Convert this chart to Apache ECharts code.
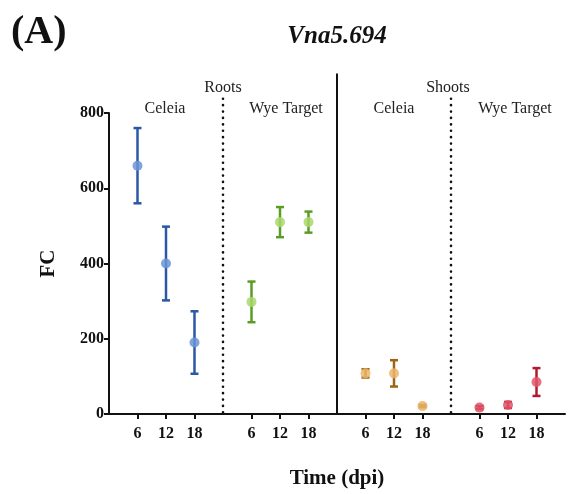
<!DOCTYPE html>
<html>
<head>
<meta charset="utf-8">
<script src="https://cdn.jsdelivr.net/npm/echarts@6/dist/echarts.min.js"></script>
<style>html,body{margin:0;padding:0;background:#fff}#c{width:568px;height:494px}</style>
</head>
<body>
<div id="c"></div>
<script>
// ---- data ----
const timeLabels = ['6', '12', '18'];
const groupNames = ['Roots Celeia', 'Roots Wye Target', 'Shoots Celeia', 'Shoots Wye Target'];
const rootsCeleiaMean = [660, 400, 190];
const rootsCeleiaErr = [100, 98, 83];
const rootsWyeMean = [298, 510, 510];
const rootsWyeErr = [54, 40, 28];
const shootsCeleiaMean = [108, 108, 21];
const shootsCeleiaErr = [11, 35, 3];
const shootsWyeMean = [17, 24, 85];
const shootsWyeErr = [4, 8, 37];
const yTicks = [0, 200, 400, 600, 800];

const means = [rootsCeleiaMean, rootsWyeMean, shootsCeleiaMean, shootsWyeMean];
const errs = [rootsCeleiaErr, rootsWyeErr, shootsCeleiaErr, shootsWyeErr];
const barColors = ['#2b58a6', '#5a9c26', '#9c6414', '#b01a2e'];
const dotColors = ['#6a94d8', '#a9d76c', '#ebb66a', '#e2566a'];

// category axis: gap, 6,12,18, gap, 6,12,18, gap, ...
const cats = [''];
for (let g = 0; g < 4; g++) { timeLabels.forEach(t => cats.push(t)); cats.push(''); }

const font = 'Liberation Serif';
const series = [];
for (let g = 0; g < 4; g++) {
  const pts = means[g].map((m, t) => [1 + g * 4 + t, m, errs[g][t]]);
  series.push({
    type: 'custom', name: groupNames[g] + ' err', z: 3,
    data: pts,
    renderItem: function (params, api) {
      const x = api.value(0), m = api.value(1), e = api.value(2);
      const top = api.coord([x, m + e]);
      const bot = api.coord([x, m - e]);
      const hw = 4;
      const st = { stroke: barColors[g], lineWidth: 2.5 };
      return { type: 'group', children: [
        { type: 'line', shape: { x1: top[0], y1: top[1], x2: bot[0], y2: bot[1] }, style: st },
        { type: 'line', shape: { x1: top[0] - hw, y1: top[1], x2: top[0] + hw, y2: top[1] }, style: st },
        { type: 'line', shape: { x1: bot[0] - hw, y1: bot[1], x2: bot[0] + hw, y2: bot[1] }, style: st }
      ]};
    }
  });
  series.push({
    type: 'scatter', name: groupNames[g], z: 4,
    data: pts.map(p => [p[0], p[1]]),
    symbolSize: 10,
    itemStyle: { color: dotColors[g], opacity: 0.85 }
  });
}
// separators
const sepX = [4, 8, 12];
const sepTop = [838, 905, 838];
const sepBot = [-2, 0, -2];
series.push({
  type: 'custom', name: 'sep', z: 2, silent: true,
  data: sepX.map((x, i) => [x, sepTop[i], sepBot[i], i === 1 ? 1 : 0]),
  renderItem: function (params, api) {
    const x = api.value(0);
    const a = api.coord([x, api.value(1)]);
    const b = api.coord([x, api.value(2)]);
    const solid = api.value(3) === 1;
    return { type: 'line', shape: { x1: a[0], y1: a[1], x2: b[0], y2: b[1] },
      style: solid ? { stroke: '#111', lineWidth: 2 } :
        { stroke: '#111', lineWidth: 2.6, lineDash: [0.1, 6.3], lineCap: 'round' } };
  }
});

const chart = echarts.init(document.getElementById('c'));
chart.setOption({
  animation: false,
  grid: { left: 109, right: 3, top: 113, bottom: 77 },
  xAxis: {
    type: 'category', data: cats, boundaryGap: false,
    name: 'Time (dpi)', nameLocation: 'middle', nameGap: 54,
    nameTextStyle: { fontFamily: font, fontWeight: 'bold', fontSize: 21, color: '#111' },
    axisLine: { lineStyle: { color: '#111', width: 2 } },
    axisTick: { length: 5, lineStyle: { color: '#111', width: 2 },
      interval: function (i, v) { return v !== ''; } },
    axisLabel: { fontFamily: font, fontWeight: 'bold', fontSize: 16, color: '#111', margin: 12,
      interval: function (i, v) { return v !== ''; } },
    splitLine: { show: false }
  },
  yAxis: {
    type: 'value', min: 0, max: 800, interval: 200,
    name: 'FC', nameLocation: 'middle', nameGap: 50,
    nameTextStyle: { fontFamily: font, fontWeight: 'bold', fontSize: 21, color: '#111' },
    axisLine: { show: true, lineStyle: { color: '#111', width: 2 } },
    axisTick: { show: true, length: 5, lineStyle: { color: '#111', width: 2 } },
    axisLabel: { fontFamily: font, fontWeight: 'bold', fontSize: 16, color: '#111', margin: 5,
      customValues: yTicks },
    splitLine: { show: false }
  },
  graphic: [
    { type: 'text', left: 11, top: 13, style: { text: '(A)', font: 'bold 40px "Liberation Serif"', fill: '#111' } },
    { type: 'text', x: 337, y: 37, style: { text: 'Vna5.694', font: 'italic bold 25px "Liberation Serif"', fill: '#111', align: 'center', verticalAlign: 'middle' } },
    { type: 'text', x: 223, y: 88, style: { text: 'Roots', font: '16px "Liberation Serif"', fill: '#222', align: 'center', verticalAlign: 'middle' } },
    { type: 'text', x: 448, y: 88, style: { text: 'Shoots', font: '16px "Liberation Serif"', fill: '#222', align: 'center', verticalAlign: 'middle' } },
    { type: 'text', x: 165, y: 109, style: { text: 'Celeia', font: '16px "Liberation Serif"', fill: '#222', align: 'center', verticalAlign: 'middle' } },
    { type: 'text', x: 286, y: 109, style: { text: 'Wye Target', font: '16px "Liberation Serif"', fill: '#222', align: 'center', verticalAlign: 'middle' } },
    { type: 'text', x: 394, y: 109, style: { text: 'Celeia', font: '16px "Liberation Serif"', fill: '#222', align: 'center', verticalAlign: 'middle' } },
    { type: 'text', x: 515, y: 109, style: { text: 'Wye Target', font: '16px "Liberation Serif"', fill: '#222', align: 'center', verticalAlign: 'middle' } }
  ],
  series: series
});
</script>
</body>
</html>
